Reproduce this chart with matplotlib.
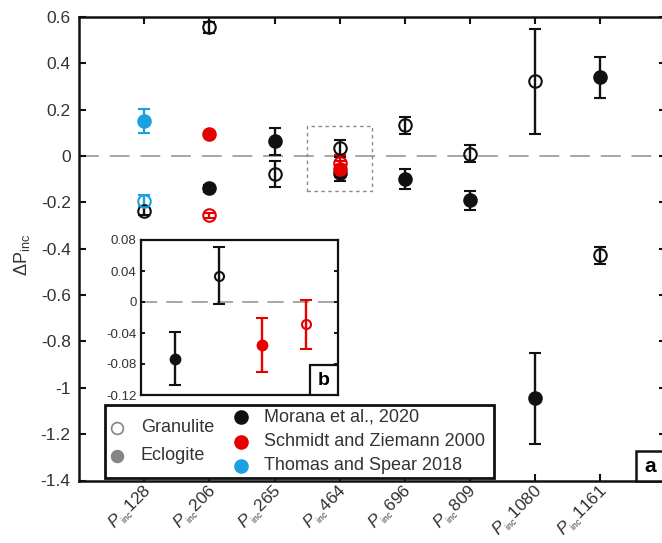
import matplotlib
matplotlib.use('Agg')
import matplotlib.pyplot as plt
import matplotlib.transforms as mtransforms
from matplotlib.patches import Rectangle
from matplotlib.lines import Line2D

plt.rcParams['font.family'] = ['Liberation Sans', 'DejaVu Sans']
plt.rcParams['mathtext.fontset'] = 'custom'
plt.rcParams['mathtext.rm'] = 'Liberation Sans'
plt.rcParams['mathtext.it'] = 'Liberation Sans:italic'
plt.rcParams['mathtext.bf'] = 'Liberation Sans:bold'

# ---------------- data ----------------
categories = ['128', '206', '265', '464', '696', '809', '1080', '1161']

# Morana et al., 2020
morana_gran_cat = ['128', '206', '265', '464', '696', '809', '1080', '1161']
morana_gran_val = [-0.235, 0.555, -0.078, 0.034, 0.132, 0.010, 0.322, -0.429]
morana_gran_err = [0.018, 0.025, 0.057, 0.037, 0.038, 0.036, 0.228, 0.035]
morana_ecl_cat = ['206', '265', '464', '696', '809', '1080', '1161']
morana_ecl_val = [-0.140, 0.063, -0.073, -0.101, -0.191, -1.045, 0.339]
morana_ecl_err = [0.015, 0.058, 0.034, 0.043, 0.041, 0.196, 0.090]

# Schmidt and Ziemann 2000
schmidt_gran_cat = ['206', '464']
schmidt_gran_val = [-0.256, -0.029]
schmidt_gran_err = [0.012, 0.032]
schmidt_ecl_cat = ['206', '464']
schmidt_ecl_val = [0.095, -0.055]
schmidt_ecl_err = [0.010, 0.035]

# Thomas and Spear 2018
thomas_gran_cat = ['128']
thomas_gran_val = [-0.192]
thomas_gran_err = [0.025]
thomas_ecl_cat = ['128']
thomas_ecl_val = [0.151]
thomas_ecl_err = [0.053]

main_yticks = [-1.4, -1.2, -1.0, -0.8, -0.6, -0.4, -0.2, 0, 0.2, 0.4, 0.6]
main_yticklabels = ['-1.4', '-1.2', '-1', '-0.8', '-0.6', '-0.4', '-0.2', '0', '0.2', '0.4', '0.6']
inset_yticks = [-0.12, -0.08, -0.04, 0, 0.04, 0.08]
inset_yticklabels = ['-0.12', '-0.08', '-0.04', '0', '0.04', '0.08']

BLACK = '#111111'
RED = '#e60000'
BLUE = '#1ba1e2'
GREY = '#858585'

xpos = {c: i + 1 for i, c in enumerate(categories)}

fig = plt.figure(figsize=(6.62, 5.43), dpi=100)
W, H = 662.0, 543.0
ax = fig.add_axes([79 / W, (H - 480.5) / H, 586.6 / W, 463.5 / H])
ax.set_xlim(0, 9)
ax.set_ylim(-1.4, 0.6)

ax.axhline(0, color='#a0a0a0', lw=1.3, dashes=(11, 6), zorder=1)


def draw(axis, xs, ys, es, color, filled, ms=9, lw=1.7, cs=4.5):
    axis.errorbar(xs, ys, yerr=es, fmt='o', color=color,
                  mfc=color if filled else 'none', mec=color, ms=ms, mew=1.5,
                  elinewidth=lw, capsize=cs, capthick=lw, zorder=3)


series = [
    (morana_gran_cat, morana_gran_val, morana_gran_err, BLACK, False),
    (morana_ecl_cat, morana_ecl_val, morana_ecl_err, BLACK, True),
    (schmidt_gran_cat, schmidt_gran_val, schmidt_gran_err, RED, False),
    (schmidt_ecl_cat, schmidt_ecl_val, schmidt_ecl_err, RED, True),
    (thomas_gran_cat, thomas_gran_val, thomas_gran_err, BLUE, False),
    (thomas_ecl_cat, thomas_ecl_val, thomas_ecl_err, BLUE, True),
]
for cats, vals, errs, col, filled in series:
    draw(ax, [xpos[c] for c in cats], vals, errs, col, filled)

# dotted zoom rectangle around P_inc 464
ax.add_patch(Rectangle((3.5, -0.15), 1.0, 0.28, fill=False, ec='#8a8a8a',
                       lw=1.0, ls=(0, (2.5, 2.5)), zorder=2))

ax.set_yticks(main_yticks)
ax.set_yticklabels(main_yticklabels)
ax.set_xticks([xpos[c] for c in categories])
ax.set_xticklabels([r'$P_{{}_{\mathrm{inc}}}$' + c for c in categories],
                   rotation=45, ha='right', va='center', rotation_mode='anchor')
ax.tick_params(axis='both', direction='in', length=5, width=1.5,
               top=True, right=True, labelsize=12.5, colors='#111111',
               labelcolor='#333333')
ax.tick_params(axis='x', pad=6)
ax.tick_params(axis='y', pad=6)
shift = mtransforms.ScaledTranslation(5 / 100, 0, fig.dpi_scale_trans)
for lab in ax.get_xticklabels():
    lab.set_transform(lab.get_transform() + shift)
for s in ax.spines.values():
    s.set_linewidth(1.8)
    s.set_color('#111111')

ax.set_ylabel(r'$\Delta\mathrm{P}_{\mathrm{inc}}$', fontsize=13, color='#333333')
ax.yaxis.set_label_coords(-0.080, 0.4865)

# "a" box
ax.add_patch(Rectangle((0.9495, 0.0), 0.07, 0.064, transform=ax.transAxes,
                       fc='white', ec='#111111', lw=1.8, zorder=5, clip_on=False))
ax.text(0.973, 0.030, 'a', transform=ax.transAxes, fontsize=15,
        fontweight='bold', ha='center', va='center', zorder=6)

# ---------------- inset ----------------
axin = fig.add_axes([140.7 / W, (H - 395) / H, 197.3 / W, 155 / H])
axin.set_zorder(10)
axin.set_facecolor('white')
axin.set_xlim(0.21, 4.74)
axin.set_ylim(-0.12, 0.08)
axin.axhline(0, color='#a0a0a0', lw=1.3, dashes=(9, 5), zorder=1)

inset_series = [
    (morana_ecl_cat, morana_ecl_val, morana_ecl_err, BLACK, True, 1),
    (morana_gran_cat, morana_gran_val, morana_gran_err, BLACK, False, 2),
    (schmidt_ecl_cat, schmidt_ecl_val, schmidt_ecl_err, RED, True, 3),
    (schmidt_gran_cat, schmidt_gran_val, schmidt_gran_err, RED, False, 4),
]
for cats, vals, errs, col, filled, xi in inset_series:
    k = cats.index('464')
    draw(axin, [xi], [vals[k]], [errs[k]], col, filled,
         ms=7 if filled else 6.5, lw=1.7, cs=4)

axin.set_xticks([])
axin.set_yticks(inset_yticks)
axin.set_yticklabels(inset_yticklabels)
axin.tick_params(axis='y', direction='in', length=3, width=1.3, right=True,
                 labelsize=9.5, pad=3, labelcolor='#333333')
for s in axin.spines.values():
    s.set_linewidth(1.6)
    s.set_color('#111111')

axin.add_patch(Rectangle((0.858, 0.0), 0.142, 0.194, transform=axin.transAxes,
                         fc='white', ec='#111111', lw=1.6, zorder=5))
axin.text(0.929, 0.095, 'b', transform=axin.transAxes, fontsize=14,
          fontweight='bold', ha='center', va='center', zorder=6)

# ---------------- legend (manual) ----------------
tf = fig.transFigure
leg_box = Rectangle((105 / W, 1 - 478 / H), 389 / W, 73 / H, transform=tf,
                    fc='white', ec='#111111', lw=2.0, zorder=20)
fig.add_artist(leg_box)


def fy(py):
    return 1 - py / H


legend_left = [('Granulite', 'none', GREY, 427.6), ('Eclogite', GREY, GREY, 456.0)]
for lbl, fc, ec, py in legend_left:
    fig.add_artist(Line2D([117 / W], [fy(py)], transform=tf, marker='o', ms=8.5,
                          mfc=fc, mec=ec, mew=1.2, ls='none', zorder=21))
    fig.text(141 / W, fy(py), lbl, fontsize=13, color='#333333',
             va='center', ha='left', zorder=21)

legend_right = [('Morana et al., 2020', BLACK, 417.0),
                ('Schmidt and Ziemann 2000', RED, 441.5),
                ('Thomas and Spear 2018', BLUE, 466.0)]
for lbl, col, py in legend_right:
    fig.add_artist(Line2D([240.7 / W], [fy(py)], transform=tf, marker='o', ms=9.5,
                          mfc=col, mec=col, ls='none', zorder=21))
    fig.text(264.5 / W, fy(py), lbl, fontsize=13, color='#333333',
             va='center', ha='left', zorder=21)

fig.savefig('out.png', dpi=100)
